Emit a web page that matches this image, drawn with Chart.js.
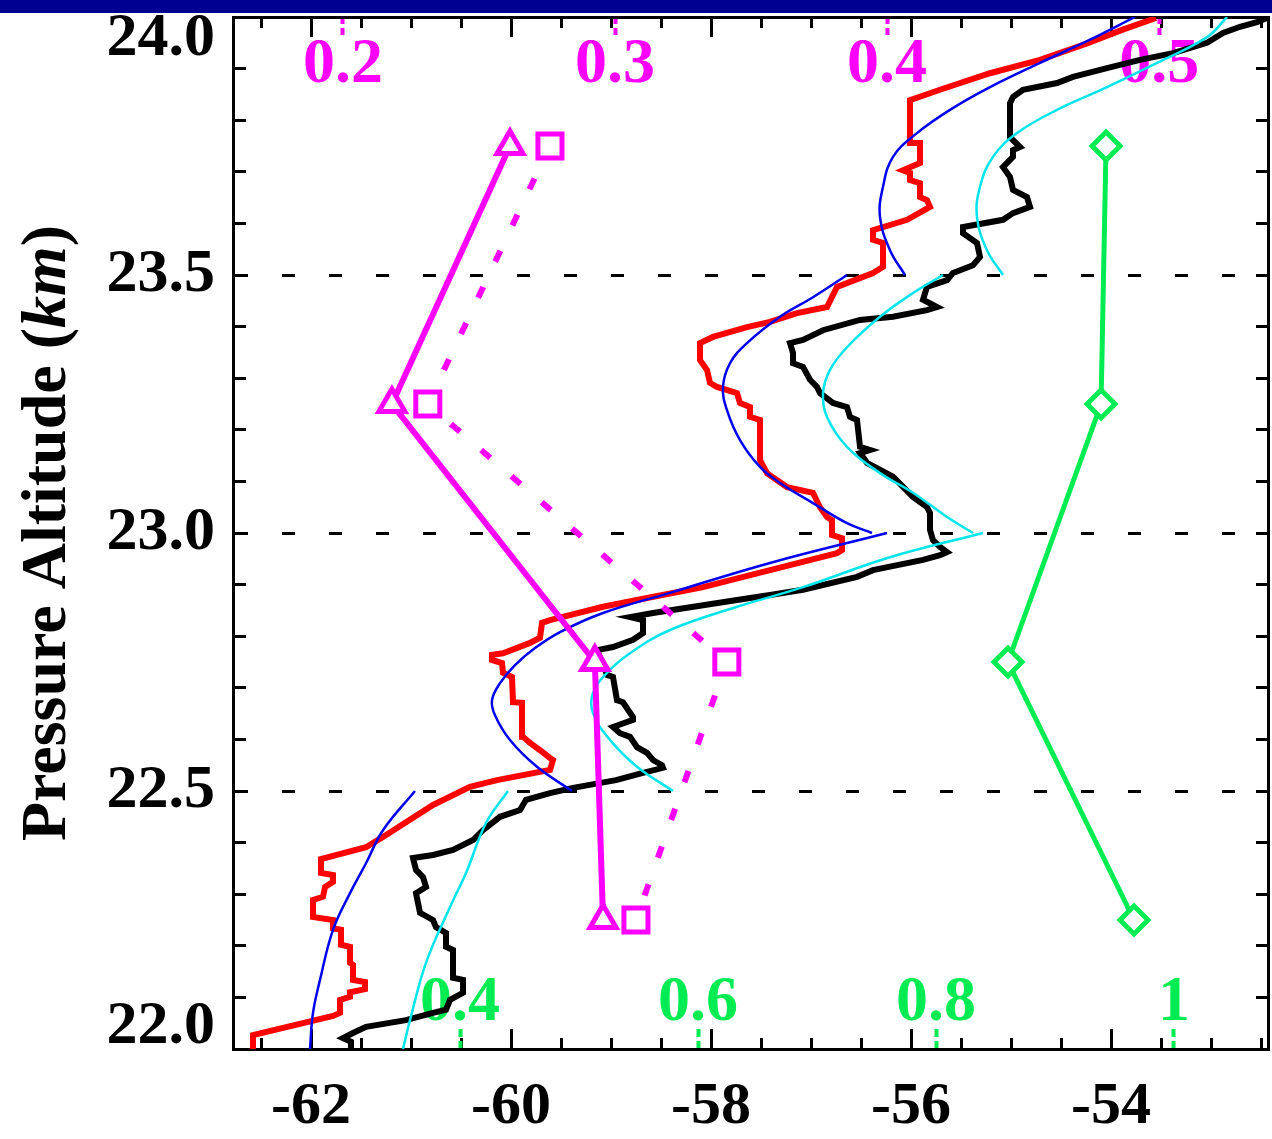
<!DOCTYPE html>
<html>
<head>
<meta charset="utf-8">
<title>Pressure Altitude profile</title>
<script src="https://cdn.jsdelivr.net/npm/chart.js@4.4.1/dist/chart.umd.min.js"></script>
<style>
  html, body { margin: 0; padding: 0; background: #fff; }
  #wrap { width: 1272px; height: 1139px; position: relative; }
</style>
</head>
<body>
<div id="wrap"><canvas id="profileChart"></canvas></div>
<script>
// temperature (deg C), altitude (km)
const redProfile = [
  [-62.58,22.000],[-62.58,22.027],[-61.78,22.064],[-61.71,22.070],[-61.71,22.095],[-61.61,22.101],
  [-61.61,22.110],[-61.46,22.116],[-61.46,22.130],[-61.58,22.134],[-61.58,22.163],[-61.61,22.167],
  [-61.61,22.198],[-61.70,22.202],[-61.70,22.231],[-61.78,22.234],[-61.78,22.250],[-61.98,22.256],
  [-61.98,22.289],[-61.88,22.295],[-61.86,22.314],[-61.78,22.324],[-61.78,22.337],[-61.90,22.341],
  [-61.90,22.368],[-61.45,22.391],[-61.28,22.411],[-60.78,22.473],[-60.41,22.508],[-60.14,22.521],
  [-59.61,22.541],[-59.58,22.560],[-59.61,22.564],[-59.71,22.579],[-59.81,22.593],[-59.88,22.605],
  [-59.89,22.671],[-59.98,22.672],[-59.99,22.721],[-60.08,22.729],[-60.09,22.748],[-60.19,22.754],
  [-60.19,22.764],[-60.08,22.767],[-59.81,22.787],[-59.71,22.797],[-59.69,22.826],[-59.61,22.831],
  [-59.08,22.857],[-58.64,22.874],[-58.08,22.895],[-57.41,22.928],[-56.74,22.961],[-56.69,22.967],
  [-56.69,22.990],[-56.79,22.996],[-56.79,23.025],[-56.84,23.031],[-56.91,23.050],[-56.98,23.078],
  [-57.24,23.089],[-57.44,23.116],[-57.51,23.141],[-57.51,23.219],[-57.61,23.225],[-57.61,23.244],
  [-57.71,23.252],[-57.74,23.271],[-57.94,23.283],[-58.01,23.291],[-58.04,23.316],[-58.11,23.335],
  [-58.11,23.368],[-57.98,23.380],[-57.64,23.399],[-57.41,23.409],[-57.14,23.426],[-56.84,23.438],
  [-56.74,23.477],[-56.38,23.504],[-56.28,23.516],[-56.28,23.562],[-56.38,23.568],[-56.38,23.587],
  [-56.04,23.607],[-55.81,23.632],[-55.84,23.645],[-55.91,23.651],[-55.91,23.678],[-56.01,23.684],
  [-56.01,23.698],[-56.08,23.703],[-55.91,23.717],[-55.91,23.756],[-56.01,23.756],[-56.01,23.839],
  [-55.71,23.859],[-55.21,23.891],[-54.71,23.917],[-54.22,23.950],[-53.89,23.975],[-53.55,23.998]
];

const blackProfile = [
  [-61.60,22.000],[-61.60,22.014],[-61.68,22.021],[-61.58,22.031],[-61.45,22.043],[-61.05,22.056],
  [-60.78,22.070],[-60.65,22.076],[-60.61,22.095],[-60.48,22.109],[-60.48,22.134],[-60.58,22.138],
  [-60.58,22.192],[-60.65,22.198],[-60.65,22.225],[-60.75,22.236],[-60.78,22.250],[-60.91,22.264],
  [-60.95,22.302],[-60.85,22.314],[-60.88,22.333],[-60.95,22.347],[-60.98,22.370],[-60.78,22.376],
  [-60.58,22.386],[-60.38,22.405],[-60.28,22.424],[-60.11,22.450],[-59.91,22.463],[-59.85,22.483],
  [-59.61,22.496],[-59.38,22.506],[-58.95,22.521],[-58.68,22.535],[-58.48,22.545],[-58.49,22.550],
  [-58.58,22.560],[-58.64,22.574],[-58.74,22.585],[-58.81,22.605],[-58.91,22.612],[-58.98,22.624],
  [-58.78,22.638],[-58.78,22.643],[-58.88,22.672],[-58.94,22.676],[-58.98,22.721],[-59.04,22.725],
  [-59.14,22.773],[-58.98,22.779],[-58.78,22.793],[-58.68,22.806],[-58.68,22.831],[-58.81,22.837],
  [-58.58,22.845],[-58.24,22.855],[-57.74,22.870],[-57.41,22.880],[-57.08,22.890],[-56.54,22.915],
  [-56.38,22.928],[-55.88,22.948],[-55.71,22.957],[-55.64,22.963],[-55.71,22.973],[-55.78,22.986],
  [-55.81,23.006],[-55.81,23.039],[-55.84,23.050],[-55.98,23.070],[-56.18,23.109],[-56.44,23.136],
  [-56.51,23.155],[-56.41,23.161],[-56.51,23.167],[-56.54,23.219],[-56.61,23.225],[-56.64,23.244],
  [-56.78,23.252],[-56.91,23.271],[-56.94,23.283],[-57.01,23.297],[-57.08,23.322],[-57.18,23.329],
  [-57.18,23.349],[-57.21,23.368],[-57.08,23.374],[-56.88,23.393],[-56.51,23.413],[-56.18,23.419],
  [-55.84,23.432],[-55.74,23.438],[-55.88,23.452],[-55.84,23.477],[-55.64,23.490],[-55.58,23.504],
  [-55.38,23.519],[-55.31,23.535],[-55.34,23.562],[-55.48,23.581],[-55.48,23.593],[-55.08,23.607],
  [-54.98,23.620],[-54.81,23.632],[-54.84,23.651],[-54.98,23.665],[-55.01,23.690],[-55.08,23.709],
  [-54.98,23.729],[-54.98,23.742],[-54.91,23.748],[-55.01,23.767],[-55.01,23.833],[-54.98,23.845],
  [-54.88,23.859],[-54.54,23.872],[-54.38,23.884],[-54.04,23.901],[-53.71,23.917],[-53.38,23.930],
  [-53.04,23.950],[-52.88,23.969],[-52.71,23.981],[-52.54,23.990],[-52.44,23.998]
];

// fitted curves, one piece per 0.5 km layer
const blueFit1 = [[-62.01,22.000],[-61.98,22.070],[-61.91,22.134],[-61.78,22.231],[-61.61,22.302],[-61.45,22.360],[-61.28,22.424],[-60.96,22.500]];
const blueFit2 = [[-59.39,22.500],[-59.74,22.547],[-60.01,22.599],[-60.16,22.647],[-60.19,22.676],[-60.11,22.709],[-59.96,22.744],[-59.76,22.777],[-59.51,22.808],[-59.08,22.845],[-58.41,22.884],[-57.41,22.942],[-56.24,23.000]];
const blueFit3 = [[-56.39,23.000],[-56.64,23.019],[-56.98,23.058],[-57.31,23.097],[-57.51,23.128],[-57.71,23.180],[-57.84,23.238],[-57.88,23.283],[-57.81,23.329],[-57.64,23.368],[-57.31,23.419],[-56.98,23.457],[-56.64,23.500]];
const blueFit4 = [[-56.06,23.500],[-56.21,23.548],[-56.31,23.612],[-56.28,23.671],[-56.18,23.729],[-55.94,23.775],[-55.61,23.820],[-55.21,23.864],[-54.71,23.911],[-54.22,23.955],[-53.76,24.000]];

const cyanFit1 = [[-61.08,22.000],[-61.01,22.056],[-60.85,22.167],[-60.61,22.275],[-60.45,22.341],[-60.25,22.438],[-60.03,22.500]];
const cyanFit2 = [[-58.38,22.500],[-58.74,22.547],[-59.01,22.599],[-59.18,22.651],[-59.18,22.690],[-59.04,22.729],[-58.81,22.767],[-58.41,22.812],[-57.74,22.857],[-57.08,22.895],[-56.21,22.953],[-55.28,23.000]];
const cyanFit3 = [[-55.38,23.000],[-55.64,23.031],[-55.98,23.078],[-56.31,23.116],[-56.64,23.167],[-56.84,23.225],[-56.88,23.271],[-56.81,23.316],[-56.64,23.360],[-56.31,23.419],[-55.98,23.465],[-55.68,23.500]];
const cyanFit4 = [[-55.08,23.500],[-55.24,23.548],[-55.34,23.612],[-55.31,23.671],[-55.18,23.729],[-54.94,23.775],[-54.54,23.820],[-54.04,23.864],[-53.54,23.911],[-53.04,23.961],[-52.84,24.000]];

// layer values (top magenta axis and bottom green axis)
const layerAlt = [22.25, 22.75, 23.25, 23.75];
const magentaSolid = [0.2956, 0.2926, 0.2180, 0.2614];
const magentaDotted = [0.3077, 0.3411, 0.2312, 0.2761];
const greenValues = [0.9664, 0.8605, 0.9387, 0.9429];

const SERIF = '"Liberation Serif", "Times New Roman", serif';
const MAGENTA = '#ff00ff';
const GREEN = '#00ec52';

const toXY = arr => arr.map(([t, z]) => ({ x: t, y: z }));
const layerXY = vals => layerAlt.map((z, i) => ({ x: vals[i], y: z }));

// force axis box sizes so the plot frame sits where it does in the figure
const fixSize = (w, h) => (scale) => {
  if (w !== null) scale.width = w;
  if (h !== null) scale.height = h;
  scale.paddingTop = 0; scale.paddingBottom = 0;
  scale.paddingLeft = 0; scale.paddingRight = 0;
};

const fitLine = (data, color) => ({
  data: toXY(data), xAxisID: 'x', borderColor: color, borderWidth: 2.5,
  pointRadius: 0, showLine: true, tension: 0.4, fill: false
});

const stairLine = (data, color) => ({
  data: toXY(data), xAxisID: 'x', borderColor: color, borderWidth: 6,
  pointRadius: 0, showLine: true, tension: 0, fill: false,
  borderJoinStyle: 'miter'
});

const yTitle = {
  id: 'yTitle',
  afterDraw(chart) {
    const { ctx, chartArea } = chart;
    const parts = [
      ['Pressure Altitude (', 'bold 64px ' + SERIF],
      ['km', 'italic bold 64px ' + SERIF],
      [')', 'bold 64px ' + SERIF]
    ];
    ctx.save();
    let total = 0;
    parts.forEach(([t, f]) => { ctx.font = f; total += ctx.measureText(t).width; });
    ctx.translate(65, (chartArea.top + chartArea.bottom) / 2);
    ctx.rotate(-Math.PI / 2);
    ctx.fillStyle = '#000';
    ctx.textBaseline = 'alphabetic';
    let x = -total / 2;
    parts.forEach(([t, f]) => {
      ctx.font = f;
      ctx.fillText(t, x, 0);
      x += ctx.measureText(t).width;
    });
    ctx.restore();
  }
};

const topBar = {
  id: 'topBar',
  afterDraw(chart) {
    const ctx = chart.ctx;
    ctx.save();
    ctx.fillStyle = '#000090';
    ctx.fillRect(0, 0, chart.width, 13);
    ctx.restore();
  }
};

const isHalf = v => Math.abs(v * 2 - Math.round(v * 2)) < 1e-6;

new Chart(document.getElementById('profileChart'), {
  type: 'scatter',
  data: {
    datasets: [
      {
        data: layerXY(magentaSolid), xAxisID: 'xMag', showLine: true,
        borderColor: MAGENTA, borderWidth: 6, pointStyle: 'triangle',
        pointRadius: 15, pointBorderWidth: 5, pointBorderColor: MAGENTA,
        pointBackgroundColor: '#fff', tension: 0
      },
      {
        data: layerXY(magentaDotted), xAxisID: 'xMag', showLine: true,
        borderColor: MAGENTA, borderWidth: 6, borderDash: [12, 28], borderDashOffset: 14,
        pointStyle: 'rect', pointRadius: 17, pointBorderWidth: 5,
        pointBorderColor: MAGENTA, pointBackgroundColor: '#fff', tension: 0
      },
      {
        data: layerXY(greenValues), xAxisID: 'xGreen', showLine: true,
        borderColor: GREEN, borderWidth: 5, pointStyle: 'rectRot',
        pointRadius: 14, pointBorderWidth: 5, pointBorderColor: GREEN,
        pointBackgroundColor: '#fff', tension: 0
      },
      fitLine(blueFit1, '#0000ee'), fitLine(blueFit2, '#0000ee'),
      fitLine(blueFit3, '#0000ee'), fitLine(blueFit4, '#0000ee'),
      fitLine(cyanFit1, '#00e4ec'), fitLine(cyanFit2, '#00e4ec'),
      fitLine(cyanFit3, '#00e4ec'), fitLine(cyanFit4, '#00e4ec'),
      stairLine(redProfile, '#ff0000'),
      stairLine(blackProfile, '#000000')
    ]
  },
  options: {
    responsive: true,
    maintainAspectRatio: false,
    animation: false,
    layout: { padding: 0, autoPadding: false },
    plugins: { legend: { display: false }, tooltip: { enabled: false } },
    scales: {
      x: {
        type: 'linear', position: 'bottom', weight: 10, min: -62.78, max: -52.43,
        afterFit: fixSize(null, 90),
        ticks: {
          stepSize: 2, includeBounds: false, autoSkip: false, maxRotation: 0,
          color: '#000', padding: 48,
          font: { family: SERIF, size: 60, weight: 'bold', lineHeight: 1 },
          callback: v => String(v)
        },
        grid: { drawOnChartArea: false, tickLength: -20, tickWidth: 3, tickColor: '#000' },
        border: { color: '#000', width: 3 }
      },
      xMinor: {
        type: 'linear', position: 'bottom', weight: 0, min: -62.78, max: -52.43,
        afterFit: fixSize(null, 0),
        ticks: { stepSize: 0.5, includeBounds: false, autoSkip: false, display: false },
        grid: { drawOnChartArea: false, tickLength: -11, tickWidth: 3, tickColor: '#000' },
        border: { display: false }
      },
      xGreen: {
        type: 'linear', position: 'bottom', weight: 1, min: 0.2092, max: 1.079,
        afterFit: fixSize(null, 0),
        ticks: {
          stepSize: 0.2, includeBounds: false, autoSkip: false, maxRotation: 0,
          mirror: true, color: GREEN, padding: 14,
          font: { family: SERIF, size: 64, weight: 'bold', lineHeight: 1 },
          callback: v => String(Math.round(v * 10) / 10)
        },
        grid: { drawOnChartArea: false, tickLength: -20, tickWidth: 4, tickColor: GREEN, tickBorderDash: [8, 4] },
        border: { display: false }
      },
      xTop: {
        type: 'linear', position: 'top', weight: 10, min: -62.78, max: -52.43,
        afterFit: fixSize(null, 17),
        ticks: { stepSize: 0.5, includeBounds: false, autoSkip: false, display: false },
        grid: { drawOnChartArea: false, tickLength: -11, tickWidth: 3, tickColor: '#000' },
        border: { color: '#000', width: 3 }
      },
      xTopMajor: {
        type: 'linear', position: 'top', weight: 5, min: -62.78, max: -52.43,
        afterFit: fixSize(null, 0),
        ticks: { stepSize: 2, includeBounds: false, autoSkip: false, display: false },
        grid: { drawOnChartArea: false, tickLength: -20, tickWidth: 3, tickColor: '#000' },
        border: { display: false }
      },
      xMag: {
        type: 'linear', position: 'top', weight: 0, min: 0.1596, max: 0.540,
        afterFit: fixSize(null, 0),
        ticks: {
          stepSize: 0.1, includeBounds: false, autoSkip: false, maxRotation: 0,
          mirror: true, color: MAGENTA, padding: 16,
          font: { family: SERIF, size: 64, weight: 'bold', lineHeight: 1 },
          callback: v => String(Math.round(v * 10) / 10)
        },
        grid: { drawOnChartArea: false, tickLength: -18, tickWidth: 4, tickColor: MAGENTA, tickBorderDash: [7, 4] },
        border: { display: false }
      },
      y: {
        type: 'linear', position: 'left', min: 22, max: 24,
        afterFit: fixSize(233, null),
        ticks: {
          stepSize: 0.1, autoSkip: false, color: '#000', padding: 31,
          font: { family: SERIF, size: 62, weight: 'bold', lineHeight: 0.72 },
          callback: v => {
            const r = Math.round(v * 10) / 10;
            if (!isHalf(r)) return '';
            const s = r.toFixed(1);
            if (r >= 24) return ['', s];
            if (r <= 22) return [s, ''];
            return s;
          }
        },
        grid: {
          color: c => (c.tick && isHalf(c.tick.value) && c.tick.value > 22.01 && c.tick.value < 23.99) ? '#000' : 'rgba(0,0,0,0)',
          lineWidth: 3, tickLength: -13, tickWidth: 3, tickColor: '#000'
        },
        border: { color: '#000', width: 3, dash: [13, 34] }
      },
      yRight: {
        type: 'linear', position: 'right', min: 22, max: 24,
        afterFit: fixSize(4, null),
        ticks: { stepSize: 0.1, autoSkip: false, display: false },
        grid: { drawOnChartArea: false, tickLength: -12, tickWidth: 3, tickColor: '#000' },
        border: { color: '#000', width: 3 }
      }
    }
  },
  plugins: [yTitle, topBar]
});
</script>
</body>
</html>
